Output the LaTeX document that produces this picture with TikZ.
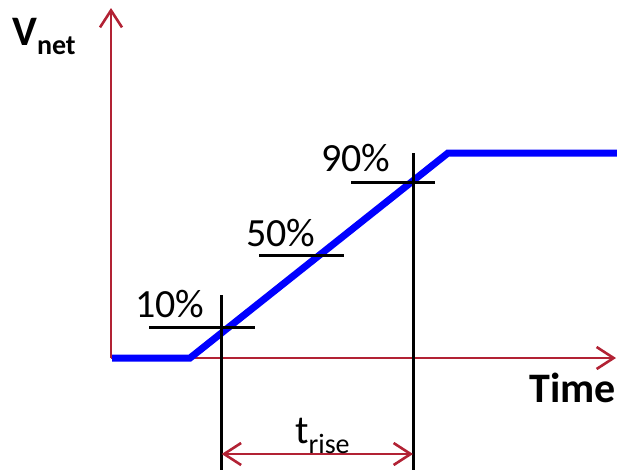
\documentclass[tikz,border=0pt]{standalone}
\usepackage{fontspec}
\setmainfont{Carlito}
\usetikzlibrary{arrows.meta, positioning}
\definecolor{axisred}{RGB}{178,34,52}

\begin{document}
\begin{tikzpicture}[
	x=1pt,
	y=-1pt,
	axis/.style={
		draw=axisred,
		line width=2.6pt,
		-{Straight Barb[length=17pt, width=22pt]}
	},
	dim/.style={
		draw=axisred,
		line width=2.6pt,
		{Straight Barb[length=17pt, width=22pt]}-{Straight Barb[length=17pt, width=22pt]}
	},
	signal/.style={
		draw=blue,
		line width=7pt,
		line join=miter
	},
	tick/.style={
		draw=black,
		line width=3pt
	},
	pct/.style={
		font=\fontsize{40}{44}\selectfont,
		inner sep=0pt,
		anchor=base west
	},
	axlbl/.style={
		pct,
		font=\fontsize{42}{46}\selectfont\bfseries
	}
	]
	\useasboundingbox (0,0) rectangle (617,472);

	% axes
	\coordinate (o) at (111,358);
	\coordinate (ytip) at (111,8);
	\coordinate (xtip) at (616,358);
	\draw[axis] (o) -- (ytip);
	\draw[axis] (o) -- (xtip);

	% rising edge
	\coordinate (s0) at (112,358);
	\coordinate (s1) at (190,358);
	\coordinate (s2) at (448,153);
	\coordinate (s3) at (617,153);
	\draw[signal] (s0) -- (s1) -- (s2) -- (s3);

	% level marks
	\coordinate (h10a) at (149,327);
	\coordinate (h10b) at (255,327);
	\coordinate (h50a) at (259,255);
	\coordinate (h50b) at (344,255);
	\coordinate (h90a) at (351,182);
	\coordinate (h90b) at (435,182);
	\draw[tick] (h10a) -- (h10b);
	\draw[tick] (h50a) -- (h50b);
	\draw[tick] (h90a) -- (h90b);

	% time marks
	\coordinate (v10a) at (221.7,295);
	\coordinate (v10b) at (221.7,470);
	\coordinate (v90a) at (413,153);
	\coordinate (v90b) at (413,470);
	\draw[tick] (v10a) -- (v10b);
	\draw[tick] (v90a) -- (v90b);

	% rise time
	\coordinate (r0) at (221.7,454);
	\coordinate (r1) at (413,454);
	\draw[dim] (r0) -- (r1);

	% labels
	\node[pct] (p10) at (135,317) {10\%};
	\node[pct] (p50) at (246,246.5) {50\%};
	\node[pct] (p90) at (321,171.5) {90\%};
	\node[pct] (rlab) at (295,443) {t\textsubscript{\fontsize{28}{30}\selectfont rise}};
	\node[axlbl] (vlab) at (12,45) {V\textsubscript{\fontsize{28}{30}\selectfont net}};
	\node[axlbl] (tlab) at (529,402) {Time};
\end{tikzpicture}
\end{document}
